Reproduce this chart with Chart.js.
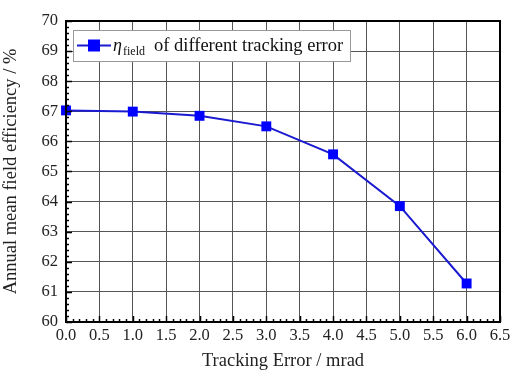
<!DOCTYPE html>
<html lang="en">
<head>
  <meta charset="UTF-8" />
  <title>Tracking error vs field efficiency</title>
  <script src="https://cdn.jsdelivr.net/npm/chart.js"></script>
  <style>
    body { margin: 0; background: #fff; }
    #box { width: 510px; height: 372px; }
  </style>
</head>
<body>
  <div id="box"><canvas id="grafico"></canvas></div>
  <script>
    const trackingError = [0, 1, 2, 3, 4, 5, 6];
    const fieldEfficiency = [67.03, 66.99, 66.85, 66.5, 65.57, 63.85, 61.28];
    const xTicks = [0, 0.5, 1, 1.5, 2, 2.5, 3, 3.5, 4, 4.5, 5, 5.5, 6, 6.5];
    const yTicks = [60, 61, 62, 63, 64, 65, 66, 67, 68, 69, 70];

    const serif = 'Liberation Serif';

    // ticks pointing inward + minor ticks + legend box
    const extras = {
      id: 'extras',
      afterDraw(chart) {
        const { ctx, chartArea: a, scales: { x, y } } = chart;
        ctx.save();
        ctx.strokeStyle = '#000';
        ctx.lineWidth = 1.5;
        for (let v = 0; v <= 6.5001; v += 0.1) {
          const px = Math.round(x.getPixelForValue(v)) + 0.5;
          const major = Math.abs(v * 2 - Math.round(v * 2)) < 0.001;
          const len = major ? 6 : 3;
          ctx.beginPath();
          ctx.moveTo(px, a.bottom);
          ctx.lineTo(px, a.bottom - len);
          ctx.stroke();
        }
        for (let v = 60; v <= 70.001; v += 0.2) {
          const py = Math.round(y.getPixelForValue(v)) + 0.5;
          const major = Math.abs(v - Math.round(v)) < 0.001;
          const len = major ? 6 : 3;
          ctx.beginPath();
          ctx.moveTo(a.left, py);
          ctx.lineTo(a.left + len, py);
          ctx.stroke();
        }
        ctx.lineWidth = 2;
        ctx.strokeRect(a.left, a.top, a.right - a.left, a.bottom - a.top);

        // legend
        const lx = a.left + 7, ly = a.top + 9, lw = 277, lh = 31;
        ctx.fillStyle = '#fff';
        ctx.fillRect(lx, ly, lw, lh);
        ctx.strokeStyle = '#999';
        ctx.lineWidth = 1;
        ctx.strokeRect(lx + 0.5, ly + 0.5, lw, lh);
        const cy = ly + lh / 2;
        ctx.strokeStyle = '#1a1ad0';
        ctx.lineWidth = 2;
        ctx.beginPath();
        ctx.moveTo(lx + 4, cy);
        ctx.lineTo(lx + 38, cy);
        ctx.stroke();
        ctx.fillStyle = '#0000ff';
        ctx.fillRect(lx + 15, cy - 6, 12, 12);
        ctx.fillStyle = '#111';
        ctx.textBaseline = 'alphabetic';
        ctx.font = 'italic 18px ' + serif;
        ctx.fillText('η', lx + 40, cy + 5);
        ctx.font = '12px ' + serif;
        ctx.fillText('field', lx + 50, cy + 9);
        ctx.font = '18.5px ' + serif;
        ctx.fillText('of different tracking error', lx + 81, cy + 5);
        ctx.restore();
      }
    };

    new Chart(document.getElementById('grafico'), {
      type: 'line',
      data: {
        datasets: [{
          data: trackingError.map((t, i) => ({ x: t, y: fieldEfficiency[i] })),
          borderColor: '#1a1ad0',
          borderWidth: 2,
          backgroundColor: '#0000ff',
          pointStyle: 'rect',
          pointRadius: 7,
          pointBorderWidth: 0,
          clip: false
        }]
      },
      options: {
        responsive: true,
        maintainAspectRatio: false,
        animation: false,
        layout: { padding: { top: 21, right: 10, left: 0, bottom: 0 } },
        plugins: { legend: { display: false }, tooltip: { enabled: false } },
        scales: {
          x: {
            type: 'linear',
            min: 0, max: 6.5,
            afterBuildTicks: s => { s.ticks = xTicks.map(v => ({ value: v })); },
            afterFit: s => { s.height = 50; s.paddingRight = 0; },
            grid: { color: '#555', lineWidth: 1, drawTicks: false },
            border: { display: false },
            ticks: {
              color: '#222', padding: 4, maxRotation: 0, autoSkip: false,
              font: { family: serif, size: 16.5 },
              callback: v => v.toFixed(1)
            },
            title: {
              display: true, text: 'Tracking Error / mrad', color: '#222',
              font: { family: serif, size: 18.5 }, padding: { top: 1, bottom: 0 }
            }
          },
          y: {
            min: 60, max: 70,
            afterBuildTicks: s => { s.ticks = yTicks.map(v => ({ value: v })); },
            afterFit: s => { s.width = 66; },
            grid: { color: '#555', lineWidth: 1, drawTicks: false },
            border: { display: false },
            ticks: {
              color: '#222', padding: 8,
              font: { family: serif, size: 16.5 }
            },
            title: {
              display: true, text: 'Annual mean field efficiency / %', color: '#222',
              font: { family: serif, size: 18.5 }, padding: { top: 0, bottom: 0 }
            }
          }
        }
      },
      plugins: [extras]
    });
  </script>
</body>
</html>
